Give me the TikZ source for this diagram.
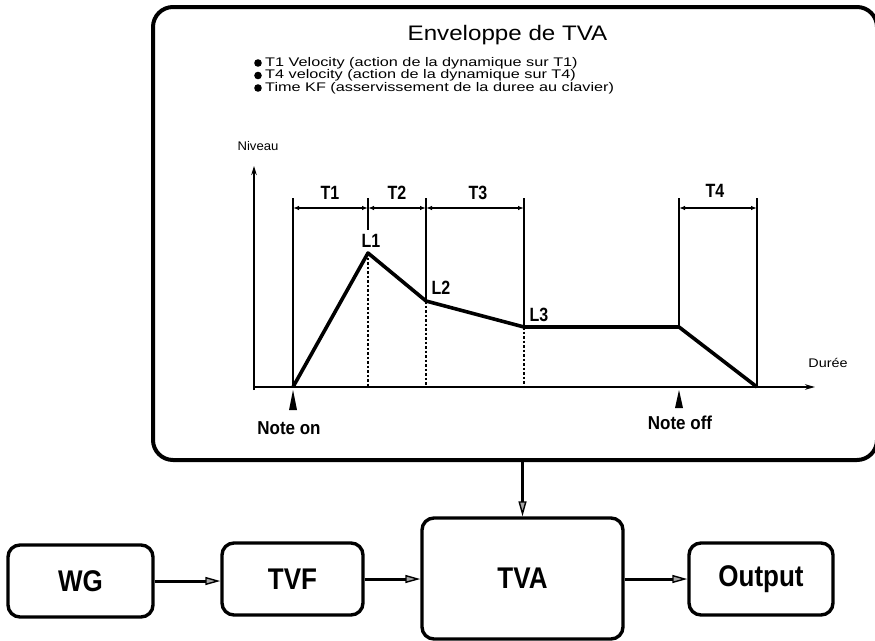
\documentclass[tikz,border=0pt]{standalone}
\usepackage{fontspec}
\usepackage{graphicx}
\setmainfont{Liberation Sans}
\usetikzlibrary{arrows.meta}
\newcommand\stretchx[2]{\scalebox{#1}[1]{#2}}
\newcommand\stretchy[2]{\scalebox{1}[#1]{#2}}
\begin{document}
\begin{tikzpicture}[x=1pt,y=-1pt,
  box/.style={draw, line width=3.4pt, rounded corners=12pt, font=\fontsize{26}{26}\selectfont\bfseries, inner sep=0pt},
  flow/.style={line width=3pt, -{Triangle[length=15pt,width=8pt,fill=black!35,line width=1.4pt]}},
  tlabel/.style={font=\fontsize{16}{16}\selectfont\bfseries, inner sep=0pt},
  note/.style={font=\fontsize{17}{17}\selectfont\bfseries, inner sep=0pt},
  small/.style={font=\fontsize{12.5}{13}\selectfont, inner sep=0pt},
  dim/.style={line width=1.5pt, {Latex[length=6pt,width=4.5pt]}-{Latex[length=6pt,width=4.5pt]}},
  guide/.style={line width=1.6pt},
  dashguide/.style={line width=1.4pt, dash pattern=on 2.5pt off 2pt},
  envline/.style={line width=3.6pt, line join=round},
  marker/.style={fill=black},
]
\useasboundingbox (0,0) rectangle (875,640);

% envelope panel
\node (panel) [draw, line width=4pt, rounded corners=20pt, minimum width=724pt, minimum height=453pt, inner sep=0pt] at (515,233.5) {};

\node (title) [font=\fontsize{21}{21}\selectfont, inner sep=0pt] at (507.5,35) {\stretchx{1.15}{Enveloppe de TVA}};

\foreach \yy/\txt [count=\i] in {63/{T1 Velocity (action de la dynamique sur T1)},
                               75.5/{T4 velocity (action de la dynamique sur T4)},
                               88/{Time KF (asservissement de la duree au clavier)}} {
  \fill (258,\yy) circle (3.8pt);
  \node (item\i) [small, anchor=west] at (265,\yy) {\stretchx{1.3}{\txt}};
}

% axes
\coordinate (origin) at (254,387);
\coordinate (ytop) at (254,166);
\coordinate (xend) at (815,387);
\draw[line width=2.4pt, -{Stealth[length=9pt,width=5.5pt]}] (254,390) -- (ytop);
\draw[line width=2.4pt, -{Stealth[length=10pt,width=5.5pt]}] (origin) -- (xend);
\node (niveau) [small] at (258,146) {\stretchx{1.05}{Niveau}};
\node (duree) [small] at (828,363) {\stretchx{1.15}{Durée}};

% envelope breakpoints
\coordinate (p0) at (293,387);
\coordinate (p1) at (368,253);
\coordinate (p2) at (426,301);
\coordinate (p3) at (524,327);
\coordinate (p4) at (679,327);
\coordinate (p5) at (757,387);

% time guides
\draw[guide] (293,198) -- (p0);
\draw[guide] (368,198) -- (368,230);
\draw[guide] (426,198) -- (p2);
\draw[guide] (524,198) -- (p3);
\draw[guide] (679,198) -- (p4);
\draw[guide] (757,198) -- (p5);
\draw[dashguide] (p1) -- (368,387);
\draw[dashguide] (p2) -- (426,387);
\draw[dashguide] (p3) -- (524,387);

% segment durations
\draw[dim] (293,208) -- (368,208);
\draw[dim] (368,208) -- (426,208);
\draw[dim] (426,208) -- (524,208);
\draw[dim] (679,208) -- (757,208);
\node (t1) [tlabel] at (330,193) {\stretchy{1.2}{T1}};
\node (t2) [tlabel] at (397,193) {\stretchy{1.2}{T2}};
\node (t3) [tlabel] at (478,193) {\stretchy{1.2}{T3}};
\node (t4) [tlabel] at (715,191) {\stretchy{1.2}{T4}};

% envelope curve
\draw[envline] (p0) -- (p1) -- (p2) -- (p3) -- (p4) -- (p5);
\node (l1) [tlabel] at (371,241) {\stretchy{1.2}{L1}};
\node (l2) [tlabel] at (441,288) {\stretchy{1.2}{L2}};
\node (l3) [tlabel] at (539,315) {\stretchy{1.2}{L3}};

% key events
\fill[marker] (293,390) -- (297,410) -- (289,410) -- cycle;
\fill[marker] (679,390) -- (683,408) -- (675,408) -- cycle;
\node (noteon) [note] at (289,428) {\stretchy{1.1}{Note on}};
\node (noteoff) [note] at (680,423) {\stretchy{1.1}{Note off}};

% signal chain
\node (wg) [box, minimum width=145pt, minimum height=72pt] at (80.5,581) {\stretchy{1.15}{WG}};
\node (tvf) [box, minimum width=141pt, minimum height=72pt] at (292.5,579) {\stretchy{1.15}{TVF}};
\node (tva) [box, minimum width=201pt, minimum height=121pt] at (522.5,578.5) {\stretchy{1.15}{TVA}};
\node (out) [box, minimum width=144pt, minimum height=72pt] at (761,579) {\stretchy{1.15}{Output}};

\draw[flow] (wg.east) -- (tvf.west |- wg.east);
\draw[flow] (tvf.east) -- (tva.west |- tvf.east);
\draw[flow] (tva.east |- out.west) -- (out.west);
\draw[flow] (tva.north |- panel.south) -- (tva.north);
\end{tikzpicture}
\end{document}
